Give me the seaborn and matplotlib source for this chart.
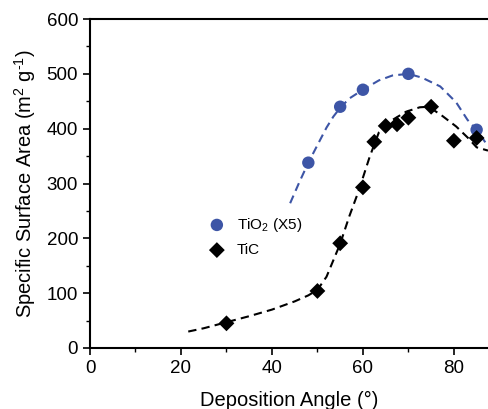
import matplotlib
matplotlib.use("Agg")
import matplotlib.pyplot as plt
import seaborn as sns
import pandas as pd
from matplotlib.ticker import MultipleLocator

# measured points
tio2_angle = [48, 55, 60, 70, 85]
tio2_area = [338, 440, 471, 500, 398]
tic_angle = [30, 50, 55, 60, 62.5, 65, 67.5, 70, 75, 80, 85]
tic_area = [45, 104, 191, 293, 376, 405, 408, 420, 440, 378, 383]

# dashed guide curves
tio2_fit_x = [44, 46, 48, 50, 52, 53.5, 55, 57, 60, 63.5, 66.5, 70, 73, 77, 80.5, 83, 85, 87.5]
tio2_fit_y = [264, 302, 338, 370, 402, 422, 438, 455, 471, 488, 497, 500, 493, 477, 448, 416, 398, 368]
tic_fit_x = [21.6, 25, 30, 35, 40, 45, 48, 50, 52, 53.5, 55, 57, 59, 61.5, 63.5, 66.5, 69.5, 72.5, 74.5, 77.5, 80.5, 83, 85, 87.5]
tic_fit_y = [30, 36, 47, 58, 70, 85, 96, 106, 130, 160, 190, 240, 285, 349, 393, 416, 431, 439, 440, 423, 404, 384, 366, 360]

blue = "#3d55a6"

sns.set_style("ticks")
plt.rcParams["font.family"] = ["Liberation Sans", "DejaVu Sans"]
plt.rcParams["mathtext.fontset"] = "custom"
plt.rcParams["mathtext.rm"] = "Liberation Sans"
plt.rcParams["mathtext.it"] = "Liberation Sans:italic"
plt.rcParams["text.color"] = "black"
plt.rcParams["axes.labelcolor"] = "black"
plt.rcParams["xtick.color"] = "black"
plt.rcParams["ytick.color"] = "black"
plt.rcParams["axes.edgecolor"] = "black"

fig = plt.figure(figsize=(4.88, 4.09), dpi=100)
ax = fig.add_axes([90 / 488, 61 / 409, 398 / 488, 329 / 409])

fits = pd.DataFrame({"x": tio2_fit_x, "y": tio2_fit_y})
sns.lineplot(data=fits, x="x", y="y", ax=ax, color=blue, lw=1.5,
             dashes=False, linestyle=(0, (4, 2.5)), legend=False)
fitc = pd.DataFrame({"x": tic_fit_x, "y": tic_fit_y})
sns.lineplot(data=fitc, x="x", y="y", ax=ax, color="black", lw=1.5,
             dashes=False, linestyle=(0, (4, 2.5)), legend=False)

sns.scatterplot(x=tio2_angle, y=tio2_area, ax=ax, color=blue, marker="o",
                s=80, edgecolor="none", label="TiO$_2$ (X5)", zorder=3)
sns.scatterplot(x=tic_angle, y=tic_area, ax=ax, color="black", marker="D",
                s=65, edgecolor="none", label="TiC", zorder=3)

ax.set_xlim(0, 87.5)
ax.set_ylim(0, 600)
ax.xaxis.set_major_locator(MultipleLocator(20))
ax.xaxis.set_minor_locator(MultipleLocator(10))
ax.yaxis.set_major_locator(MultipleLocator(100))
ax.yaxis.set_minor_locator(MultipleLocator(50))
ax.tick_params(which="major", length=5, width=1.2, labelsize=13.5, direction="out")
ax.tick_params(which="minor", length=3, width=1.0, direction="out")
for side in ["left", "bottom", "top"]:
    ax.spines[side].set_linewidth(1.5)
ax.spines["right"].set_visible(False)
ax.spines["top"].set_visible(True)

ax.set_xlabel("Deposition Angle (°)", fontsize=14.5, labelpad=10)
ax.set_ylabel("Specific Surface Area (m$^2$ g$^{\\text{-1}}$)", fontsize=14.5, labelpad=6)

ax.legend(loc="upper left", bbox_to_anchor=(0.265, 0.42), frameon=False,
          fontsize=11, handletextpad=0.3, labelspacing=0.6, borderaxespad=0)

fig.savefig("out.png", dpi=100)
